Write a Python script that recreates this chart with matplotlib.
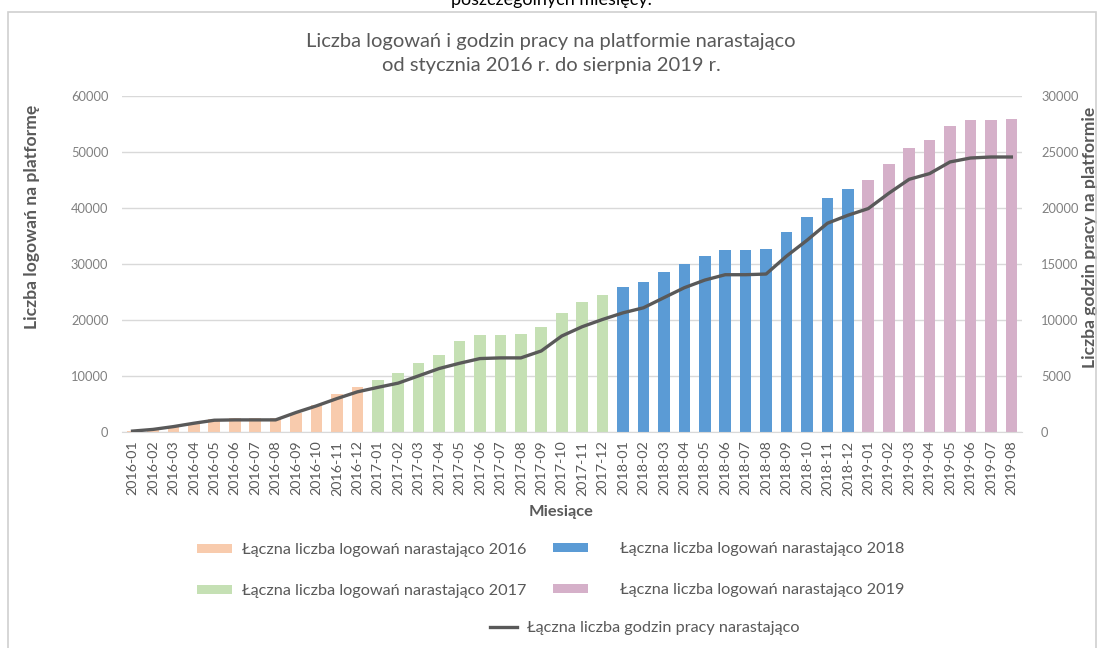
import matplotlib.pyplot as plt
import matplotlib.patches as mpatches
import numpy as np

plt.rcParams['font.family'] = ['Lato', 'DejaVu Sans']

# months per year
months_2016 = ['2016-01', '2016-02', '2016-03', '2016-04', '2016-05', '2016-06',
               '2016-07', '2016-08', '2016-09', '2016-10', '2016-11', '2016-12']
months_2017 = ['2017-01', '2017-02', '2017-03', '2017-04', '2017-05', '2017-06',
               '2017-07', '2017-08', '2017-09', '2017-10', '2017-11', '2017-12']
months_2018 = ['2018-01', '2018-02', '2018-03', '2018-04', '2018-05', '2018-06',
               '2018-07', '2018-08', '2018-09', '2018-10', '2018-11', '2018-12']
months_2019 = ['2019-01', '2019-02', '2019-03', '2019-04', '2019-05', '2019-06',
               '2019-07', '2019-08']

# cumulative logins (left axis)
logins_2016 = [150, 500, 900, 1550, 2300, 2450, 2450, 2450, 3500, 4800, 6800, 8000]
logins_2017 = [9300, 10500, 12300, 13850, 16270, 17280, 17400, 17580, 18830, 21250, 23320, 24560]
logins_2018 = [25860, 26870, 28600, 29970, 31510, 32450, 32570, 32750, 35700, 38370, 41740, 43410]
logins_2019 = [44940, 47900, 50690, 52100, 54650, 55720, 55720, 55900]

# cumulative work hours (right axis)
hours = [100, 250, 500, 800, 1070, 1100, 1100, 1100, 1760, 2350, 3000, 3600,
         4000, 4380, 5030, 5680, 6150, 6570, 6630, 6630, 7250, 8580, 9410, 10060,
         10650, 11100, 12000, 12890, 13570, 14050, 14050, 14110, 15710, 17120, 18640, 19350,
         19950, 21310, 22560, 23070, 24110, 24460, 24550, 24550]

labels = ['Łączna liczba logowań narastająco 2016', 'Łączna liczba logowań narastająco 2017',
          'Łączna liczba logowań narastająco 2018', 'Łączna liczba logowań narastająco 2019']
line_label = 'Łączna liczba godzin pracy narastająco'
colors = ['#F8CBAD', '#C5E0B4', '#5B9BD5', '#D5B0C9']

gray = '#595959'
grid = '#D9D9D9'

fig = plt.figure(figsize=(11.02, 6.48), dpi=100)
ax = fig.add_axes([0.111, 0.333, 0.816, 0.519])

# Bars per year
all_months = months_2016 + months_2017 + months_2018 + months_2019
bars = []
start = 0
for vals, c in zip([logins_2016, logins_2017, logins_2018, logins_2019], colors):
    x = np.arange(start, start + len(vals))
    bars.append(ax.bar(x, vals, width=0.57, color=c, zorder=2))
    start += len(vals)

ax.set_xlim(-0.5, len(all_months) - 0.5)
ax.set_ylim(0, 60000)
ax.set_yticks(np.arange(0, 60001, 10000))
ax.set_xticks(np.arange(len(all_months)))
ax.set_xticklabels(all_months, rotation=90, fontsize=10.3, color=gray)
ax.tick_params(axis='y', labelsize=9.3, colors='#808080', length=0, pad=10)
ax.tick_params(axis='x', length=0, pad=6)
ax.grid(axis='y', color=grid, linewidth=1, zorder=0)
for s in ['top', 'left', 'right']:
    ax.spines[s].set_visible(False)
ax.spines['bottom'].set_color(grid)
ax.set_ylabel('Liczba logowań na platformę', fontsize=12.6, fontweight='bold', color=gray)
ax.yaxis.set_label_coords(-0.091, 0.64)
ax.set_xlabel('Miesiące', fontsize=11.8, fontweight='bold', color=gray)
ax.xaxis.set_label_coords(0.488, -0.215)

# Line on secondary axis
ax2 = ax.twinx()
line, = ax2.plot(np.arange(len(hours)), hours, color=gray, linewidth=2.4, zorder=3)
ax2.set_ylim(0, 30000)
ax2.set_yticks(np.arange(0, 30001, 5000))
ax2.tick_params(axis='y', labelsize=9.3, colors='#808080', length=0, pad=14)
for s in ['top', 'left', 'right', 'bottom']:
    ax2.spines[s].set_visible(False)
ax2.set_ylabel('Liczba godzin pracy na platformie', fontsize=12.6, fontweight='bold', color=gray)
ax2.yaxis.set_label_coords(1.067, 0.58)

# Titles
fig.text(0.5, 1 - 41 / 648, 'Liczba logowań i godzin pracy na platformie narastająco',
         ha='center', va='center', fontsize=14.5, color=gray)
fig.text(0.5, 1 - 65 / 648, 'od stycznia 2016 r. do sierpnia 2019 r.',
         ha='center', va='center', fontsize=14.5, color=gray)
fig.text(0.5, 1.0, 'poszczególnych miesięcy.', ha='center', va='center', fontsize=13, color='black')

# Chart frame
fig.patches.append(mpatches.Rectangle((8 / 1102, -0.05), 1088 / 1102, 1.05 - 12 / 648,
                                      transform=fig.transFigure, fill=False,
                                      edgecolor='#D0D0D0', linewidth=1.2))


def add_entry(handle, text, x, y, pad, hl=2.15):
    fig.legend([handle], [text], loc='center left', bbox_to_anchor=(x / 1102, 1 - y / 648),
               frameon=False, fontsize=11.7, handlelength=hl, handleheight=0.5,
               handletextpad=pad, borderpad=0, borderaxespad=0, labelcolor=gray)


add_entry(bars[0], labels[0], 197, 550, 0.6)
add_entry(bars[1], labels[1], 197, 591, 0.6)
add_entry(bars[2], labels[2], 553, 549, 2.0)
add_entry(bars[3], labels[3], 553, 590, 2.0)
add_entry(line, line_label, 490, 628, 0.6, hl=1.66)

plt.savefig('out.png', dpi=100)
